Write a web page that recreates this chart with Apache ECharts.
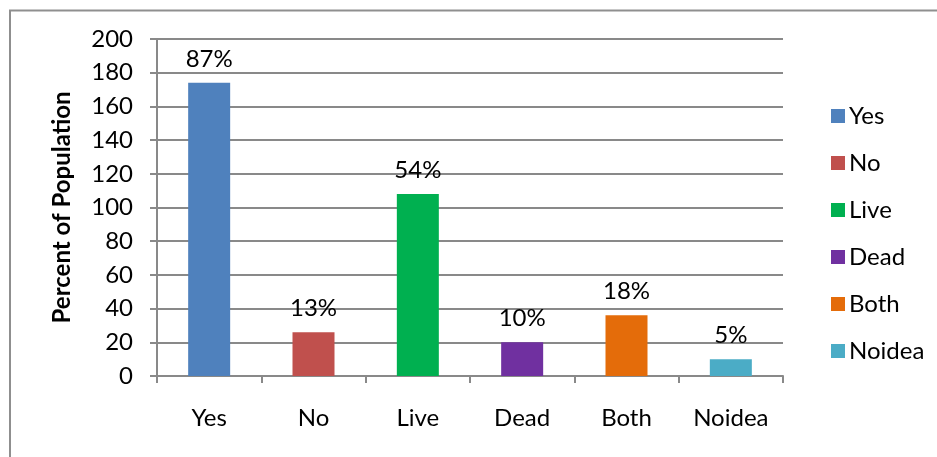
<!DOCTYPE html>
<html>
<head>
<meta charset="utf-8">
<script src="https://cdn.jsdelivr.net/npm/echarts@6/dist/echarts.min.js"></script>
<style>
  html, body { margin: 0; padding: 0; background: #fff; }
  #chart { width: 937px; height: 457px; }
</style>
</head>
<body>
<div id="chart"></div>
<script>
// Survey answers: bar heights and the percentage printed above each bar
var categories = ['Yes', 'No', 'Live', 'Dead', 'Both', 'Noidea'];
var values = [174, 26, 108, 20, 36, 10];
var percentLabels = ['87%', '13%', '54%', '10%', '18%', '5%'];
var colors = ['#4F81BD', '#C0504D', '#00B050', '#7030A0', '#E46C0A', '#4BACC6'];
var yTicks = [0, 20, 40, 60, 80, 100, 120, 140, 160, 180, 200];

var FONT = 'Lato';
var GRAY = '#898989';

// One series per category so each gets its own legend entry; stacked so
// every bar stays centred in its category slot.
var series = categories.map(function (name, i) {
  var data = categories.map(function (_, j) { return j === i ? values[i] : '-'; });
  return {
    name: name,
    type: 'bar',
    stack: 'answers',
    barWidth: 42,
    data: data,
    itemStyle: { color: colors[i] },
    label: {
      show: true,
      position: 'top',
      distance: 12,
      fontFamily: FONT,
      fontSize: 24,
      color: '#000',
      formatter: function (p) { return percentLabels[p.dataIndex]; }
    }
  };
});

var chart = echarts.init(document.getElementById('chart'), null, { renderer: 'canvas' });
chart.setOption({
  animation: false,
  backgroundColor: '#fff',
  graphic: [{
    type: 'polyline',
    shape: { points: [[10, 457], [10, 10.5], [937, 10.5]] },
    style: { stroke: '#8f8f8f', lineWidth: 2, fill: null }
  }],
  grid: { left: 157, right: 154, top: 39, bottom: 81 },
  legend: {
    orient: 'vertical',
    left: 826,
    top: 99,
    itemWidth: 14,
    itemHeight: 14,
    itemGap: 23,
    icon: 'rect',
    textStyle: { fontFamily: FONT, fontSize: 24, color: '#000', padding: [0, 0, 0, -1] },
    data: categories
  },
  xAxis: {
    type: 'category',
    data: categories,
    axisLine: { lineStyle: { color: GRAY, width: 2 } },
    axisTick: { show: true, length: 7, lineStyle: { color: GRAY, width: 2 } },
    axisLabel: { margin: 30, fontFamily: FONT, fontSize: 24, color: '#000' }
  },
  yAxis: {
    type: 'value',
    min: yTicks[0],
    max: yTicks[yTicks.length - 1],
    interval: yTicks[1] - yTicks[0],
    name: 'Percent of Population',
    nameLocation: 'middle',
    nameGap: 83,
    nameRotate: 90,
    nameTextStyle: { fontFamily: FONT, fontSize: 24, fontWeight: 'bold', color: '#000' },
    axisLine: { show: true, lineStyle: { color: GRAY, width: 2 } },
    axisTick: { show: true, length: 7, lineStyle: { color: GRAY, width: 2 } },
    axisLabel: { margin: 24, fontFamily: FONT, fontSize: 24, color: '#000' },
    splitLine: { lineStyle: { color: GRAY, width: 2 } }
  },
  series: series
});
</script>
</body>
</html>
